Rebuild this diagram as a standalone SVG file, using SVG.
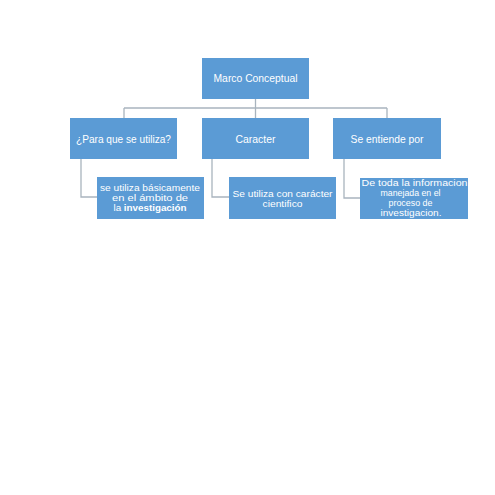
<svg xmlns="http://www.w3.org/2000/svg" width="495" height="495" viewBox="0 0 495 495">
<style>
.box{fill:#5B9BD5;}
.t{fill:#fff;font-family:"Liberation Sans",Arial,sans-serif;text-anchor:middle;}
.h{font-size:10.5px;}
.s{font-size:9px;}
.c{fill:none;stroke:#A9B4BE;stroke-width:1.3;}
</style>
<rect width="495" height="495" fill="#fff"/>
<g id="connectors">
<path class="c" d="M255.5,99V108M124,108H387M124,108V118M255.5,108V118M387,108V118"/>
<path class="c" d="M81,159V197H97"/>
<path class="c" d="M212,159V197H229"/>
<path class="c" d="M344,159V198H360"/>
</g>
<g id="marco">
<rect class="box" x="202" y="58" width="107" height="41"/>
<text class="t h" x="255.5" y="82" textLength="84" lengthAdjust="spacingAndGlyphs">Marco Conceptual</text>
</g>
<g id="para">
<rect class="box" x="70" y="118" width="107" height="41"/>
<text class="t h" x="123.5" y="142.5" textLength="95" lengthAdjust="spacingAndGlyphs">¿Para que se utiliza?</text>
</g>
<g id="caracter">
<rect class="box" x="202" y="118" width="107" height="41"/>
<text class="t h" x="255.5" y="142.5" textLength="40" lengthAdjust="spacingAndGlyphs">Caracter</text>
</g>
<g id="entiende">
<rect class="box" x="333" y="118" width="108" height="41"/>
<text class="t h" x="387" y="142.5" textLength="73" lengthAdjust="spacingAndGlyphs">Se entiende por</text>
</g>
<g id="sub1">
<rect class="box" x="97" y="177" width="107" height="42"/>
<text class="t s" x="150" y="191" textLength="100" lengthAdjust="spacingAndGlyphs">se utiliza básicamente</text>
<text class="t s" x="150" y="201" textLength="76" lengthAdjust="spacingAndGlyphs">en el ámbito de</text>
<text class="t s" x="150" y="211" textLength="73" lengthAdjust="spacingAndGlyphs">la <tspan font-weight="bold">investigación</tspan></text>
</g>
<g id="sub2">
<rect class="box" x="229" y="177" width="107" height="42"/>
<text class="t s" x="282.5" y="197" textLength="100" lengthAdjust="spacingAndGlyphs">Se utiliza con carácter</text>
<text class="t s" x="282.5" y="207" textLength="40" lengthAdjust="spacingAndGlyphs">cientifico</text>
</g>
<g id="sub3">
<rect class="box" x="360" y="178" width="108" height="41"/>
<text class="t s" x="414.5" y="186" textLength="106" lengthAdjust="spacingAndGlyphs">De toda la informacion</text>
<text class="t s" x="410.5" y="196" textLength="60" lengthAdjust="spacingAndGlyphs">manejada en el</text>
<text class="t s" x="410.5" y="206" textLength="44" lengthAdjust="spacingAndGlyphs">proceso de</text>
<text class="t s" x="411" y="216" textLength="61" lengthAdjust="spacingAndGlyphs">investigacion.</text>
</g>
</svg>
